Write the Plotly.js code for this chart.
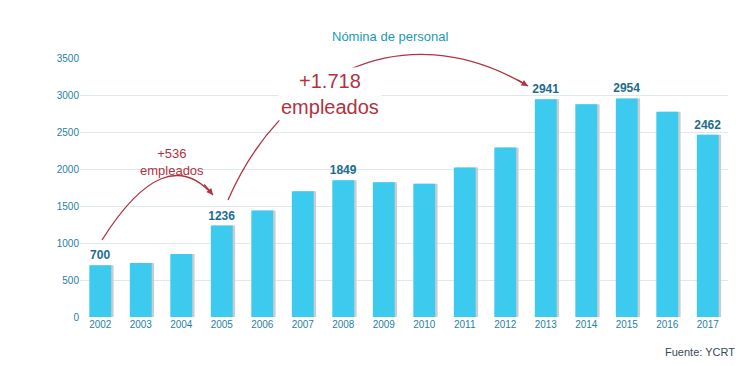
<!DOCTYPE html>
<html><head><meta charset="utf-8">
<script src="https://cdn.plot.ly/plotly-3.0.1.min.js"></script>
<style>html,body{margin:0;padding:0;background:#fff}#c{width:750px;height:366px}</style>
</head><body><div id="c"></div>
<script>
const years = ['2002','2003','2004','2005','2006','2007','2008','2009','2010','2011','2012','2013','2014','2015','2016','2017'];
const staff = [700,730,850,1236,1440,1700,1849,1820,1800,2020,2290,2941,2875,2954,2775,2462];
const shownLabels = ['700','','','1236','','','1849','','','','','2941','','2954','','2462'];
const yTicks = [0,500,1000,1500,2000,2500,3000,3500];

const L=80, R=728, T=58, B=317;
const px = x => (x-L)/(R-L);
const py = y => (B-y)/(B-T);
const P = (x,y) => px(x).toFixed(4)+','+py(y).toFixed(4);

const shadow = {type:'bar', x:years, y:staff, width:0.54, offset:-0.21,
  marker:{color:'#c9cdd0'}, hoverinfo:'skip', showlegend:false};
const bars = {type:'bar', x:years, y:staff, width:0.54, offset:-0.27,
  marker:{color:'#3ccbef'}, text:shownLabels, textposition:'outside', cliponaxis:false,
  constraintext:'none',
  textfont:{family:'Liberation Sans, Arial, sans-serif', size:12, color:'#1b6d8e', weight:'bold'},
  showlegend:false};

const red = '#b3323f';
const ann = (x,y,text,font,extra) => Object.assign({xref:'paper', yref:'paper', x:px(x), y:py(y),
  xanchor:'center', yanchor:'middle', text:text, showarrow:false, font:font}, extra||{});
const layout = {
  width:750, height:366, barmode:'overlay',
  margin:{l:L, r:750-R, t:T, b:366-B},
  paper_bgcolor:'#fff', plot_bgcolor:'#fff',
  font:{family:'Liberation Sans, Arial, sans-serif', color:'#1f7fa6'},
  xaxis:{type:'category', showgrid:false, zeroline:false, showline:false, ticks:'',
    tickfont:{size:10, color:'#1f7fa6'}},
  yaxis:{range:[0,3500], tickvals:yTicks, showgrid:true, gridcolor:'#dfe9ec', gridwidth:1,
    zeroline:false, showline:false, ticks:'', ticklen:0, tickfont:{size:10, color:'#1f7fa6'}},
  shapes:[
    {type:'path', xref:'paper', yref:'paper', path:'M'+P(102,240)+' Q'+P(165,140)+' '+P(213,195),
     line:{color:red, width:1.3}},
    {type:'path', xref:'paper', yref:'paper', path:'M'+P(228,200)+' C'+P(280,80)+' '+P(400,10)+' '+P(528,86),
     line:{color:red, width:1.3}}
  ],
  annotations:[
    ann(390,37,'Nómina de personal',{size:13, color:'#1a9ab8'}),
    ann(172,162,'+536<br>empleados',{size:13, color:red}),
    ann(330,94,'+1.718<br>empleados',{size:20, color:red},{bgcolor:'#ffffff', borderpad:2}),
    {xref:'paper', yref:'paper', x:px(213), y:py(195), ax:-10, ay:-12, text:'', showarrow:true,
     arrowhead:2, arrowsize:1, arrowwidth:1.3, arrowcolor:red, standoff:0},
    {xref:'paper', yref:'paper', x:px(528), y:py(86), ax:-12, ay:-7, text:'', showarrow:true,
     arrowhead:2, arrowsize:1, arrowwidth:1.3, arrowcolor:red, standoff:0},
    ann(737,352,'Fuente: YCRT',{size:11, color:'#3a4a55'},{xanchor:'right'})
  ]
};
Plotly.newPlot('c',[shadow,bars],layout,{staticPlot:true});
</script></body></html>
